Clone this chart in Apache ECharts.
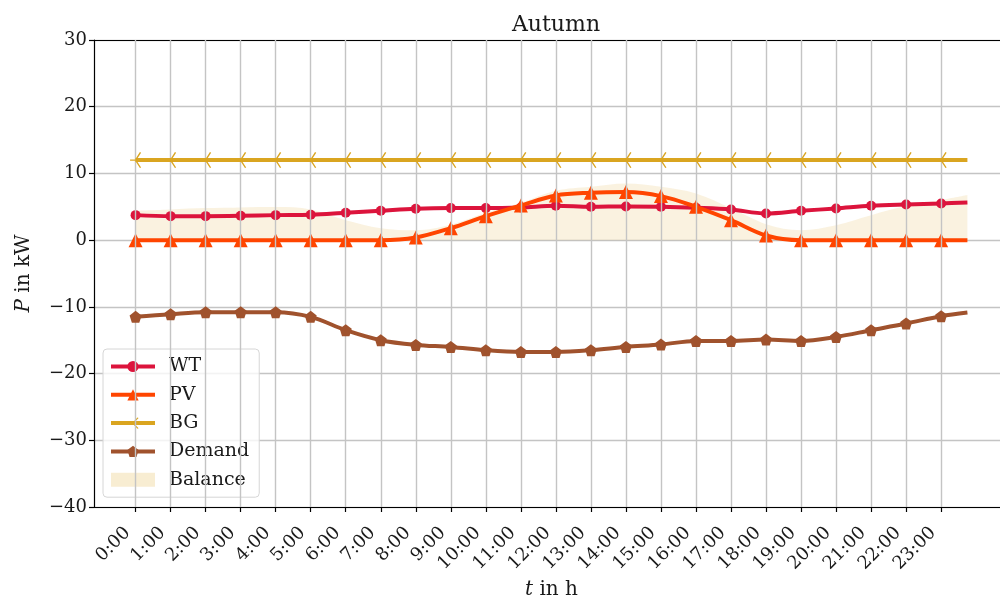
<!DOCTYPE html>
<html>
<head>
<meta charset="utf-8">
<title>Autumn</title>
<script src="https://cdn.jsdelivr.net/npm/echarts@6/dist/echarts.min.js"></script>
<style>
  html, body { margin: 0; padding: 0; background: #fff; }
  #chart { width: 1000px; height: 599px; }
</style>
</head>
<body>
<div id="chart"></div>
<script>
// Hour positions of the samples (last sample at 23:45, no marker)
const hours = [0, 1, 2, 3, 4, 5, 6, 7, 8, 9, 10, 11, 12, 13, 14, 15, 16, 17, 18, 19, 20, 21, 22, 23, 23.75];
const tickHours = [0, 1, 2, 3, 4, 5, 6, 7, 8, 9, 10, 11, 12, 13, 14, 15, 16, 17, 18, 19, 20, 21, 22, 23];
const tickLabels = ['0:00', '1:00', '2:00', '3:00', '4:00', '5:00', '6:00', '7:00', '8:00', '9:00', '10:00', '11:00',
  '12:00', '13:00', '14:00', '15:00', '16:00', '17:00', '18:00', '19:00', '20:00', '21:00', '22:00', '23:00'];

// Power in kW
const wt = [3.75, 3.6, 3.6, 3.65, 3.75, 3.8, 4.1, 4.4, 4.7, 4.8, 4.8, 4.9, 5.15, 5.0, 5.05, 5.0, 4.85, 4.6, 4.0, 4.4, 4.75, 5.15, 5.35, 5.5, 5.65];
const pv = [0, 0, 0, 0, 0, 0, 0, 0, 0.4, 1.8, 3.6, 5.2, 6.7, 7.1, 7.2, 6.6, 5.0, 3.0, 0.7, 0, 0, 0, 0, 0, 0];
const bg = [12, 12, 12, 12, 12, 12, 12, 12, 12, 12, 12, 12, 12, 12, 12, 12, 12, 12, 12, 12, 12, 12, 12, 12, 12];
const demand = [-11.5, -11.1, -10.8, -10.8, -10.8, -11.5, -13.5, -15.0, -15.7, -16.0, -16.5, -16.75, -16.75, -16.5, -16.0, -15.65, -15.1, -15.1, -14.9, -15.1, -14.5, -13.5, -12.5, -11.4, -10.85];
const balance = [4.4, 4.6, 4.8, 4.9, 4.95, 4.6, 3.0, 1.8, 1.5, 2.3, 4.1, 5.6, 7.4, 8.0, 8.5, 8.0, 7.0, 4.8, 2.4, 1.5, 2.25, 3.75, 5.1, 6.0, 6.75];

const yTicks = { min: -40, max: 30, step: 10 };

const SERIF = "'DejaVu Serif', 'Liberation Serif', serif";

// pairs [hour, value]; the final 23:45 sample is drawn without a marker
function toPoints(values) {
  return values.map((v, i) => {
    const item = { value: [hours[i], v] };
    if (hours[i] % 1 !== 0) item.symbol = 'none';
    return item;
  });
}

// tri_left style marker: three thin spokes meeting at the centre
const triLeft = 'path://M-5.5,-0.7 L0,-0.7 L0,0.7 L-5.5,0.7 Z ' +
  'M0.6,0.35 L5.6,-8.31 L4.4,-9.01 L-0.6,-0.35 Z ' +
  'M0.6,-0.35 L5.6,8.31 L4.4,9.01 L-0.6,0.35 Z';
const pentagon = 'path://M0,-1 L0.951,-0.309 L0.588,0.809 L-0.588,0.809 L-0.951,-0.309 Z';

const colors = { wt: '#DC143C', pv: '#FF4500', bg: '#DAA520', demand: '#A0522D' };
const SMOOTH = 0.35;
const X_MIN = -1.1875, X_MAX = 24.9375;

const chart = echarts.init(document.getElementById('chart'), null, { renderer: 'canvas' });

function lineSeries(name, values, color, symbol, size, z) {
  return {
    name, type: 'line', data: toPoints(values), smooth: SMOOTH,
    symbol, symbolSize: size, showAllSymbol: true, z,
    lineStyle: { color, width: 4 },
    itemStyle: { color, borderWidth: 0, opacity: 1 },
    emphasis: { disabled: true },
    animation: false
  };
}

chart.setOption({
  animation: false,
  title: {
    text: 'Autumn', left: 551, top: 9, textAlign: 'center',
    textStyle: { fontFamily: SERIF, fontSize: 22, fontWeight: 'normal', color: '#1a1a1a' }
  },
  grid: {
    left: 94, right: -9, top: 40, bottom: 92,
    outerBoundsMode: 'none', containLabel: false, show: false
  },
  legend: {
    orient: 'vertical', left: 103, top: 349,
    padding: [8, 10, 8, 6], itemGap: 9.3, itemWidth: 44, itemHeight: 14,
    backgroundColor: 'rgba(255,255,255,0.8)', borderColor: '#d6d6d6', borderWidth: 1, borderRadius: 4,
    textStyle: { fontFamily: SERIF, fontSize: 19, color: '#1a1a1a', padding: [0, 0, 0, 9] },
    data: [
      { name: 'WT', lineStyle: { width: 4 } },
      { name: 'PV', lineStyle: { width: 4 } },
      { name: 'BG', lineStyle: { width: 4 } },
      { name: 'Demand', lineStyle: { width: 4 } },
      { name: 'Balance', icon: 'rect', itemStyle: { color: 'rgba(218,165,32,0.2)' } }
    ]
  },
  xAxis: [
    {
      type: 'value', min: X_MIN, max: X_MAX, position: 'bottom',
      name: '{i|t} in h', nameLocation: 'middle', nameGap: 73,
      nameTextStyle: {
        fontFamily: SERIF, fontSize: 20, color: '#1a1a1a',
        rich: { i: { fontFamily: SERIF, fontSize: 20, fontStyle: 'italic', color: '#1a1a1a' } }
      },
      axisLine: { show: true, onZero: false, lineStyle: { color: '#000', width: 1.2 } },
      axisTick: { show: true, customValues: tickHours, length: 5, lineStyle: { color: '#000', width: 1.2 } },
      axisLabel: {
        customValues: tickHours, rotate: 45, margin: 15,
        fontFamily: SERIF, fontSize: 18, color: '#1a1a1a',
        // trailing gap keeps the rotated label clear of its tick
        formatter: (v) => tickLabels[Math.round(v)] + '  '
      },
      splitLine: { show: false }
    },
    {
      // top frame line
      type: 'value', min: X_MIN, max: X_MAX, position: 'top',
      axisLine: { show: true, onZero: false, lineStyle: { color: '#000', width: 1.2 } },
      axisTick: { show: false }, axisLabel: { show: false }, splitLine: { show: false }
    }
  ],
  yAxis: {
    type: 'value', min: yTicks.min, max: yTicks.max, interval: yTicks.step,
    name: '{i|P} in kW', nameLocation: 'middle', nameGap: 60, nameRotate: 90,
    nameTextStyle: {
      fontFamily: SERIF, fontSize: 20, color: '#1a1a1a',
      rich: { i: { fontFamily: SERIF, fontSize: 20, fontStyle: 'italic', color: '#1a1a1a' } }
    },
    axisLine: { show: true, onZero: false, lineStyle: { color: '#000', width: 1.2 } },
    axisTick: { show: true, length: 5, lineStyle: { color: '#000', width: 1.2 } },
    axisLabel: {
      margin: 7, fontFamily: SERIF, fontSize: 18, color: '#1a1a1a',
      formatter: (v) => String(v).replace('-', '\u2212')
    },
    splitLine: { show: true, lineStyle: { color: '#c4c4c4', width: 1.4 } }
  },
  series: [
    {
      name: 'Balance', type: 'line', data: hours.map((h, i) => [h, balance[i]]),
      smooth: SMOOTH, symbol: 'none', z: 1,
      lineStyle: { width: 0 },
      itemStyle: { color: 'rgba(218,165,32,0.2)' },
      areaStyle: { color: 'rgba(218,165,32,0.2)', origin: 0 },
      emphasis: { disabled: true },
      markLine: {
        silent: true, symbol: 'none', label: { show: false },
        lineStyle: { color: '#c4c4c4', width: 1.4, type: 'solid' },
        data: tickHours.map((h) => ({ xAxis: h }))
      },
      animation: false
    },
    lineSeries('WT', wt, colors.wt, 'circle', 10, 3),
    lineSeries('PV', pv, colors.pv, 'triangle', 14, 4),
    lineSeries('BG', bg, colors.bg, triLeft, [11, 16], 5),
    lineSeries('Demand', demand, colors.demand, pentagon, 12, 6)
  ]
});
</script>
</body>
</html>
